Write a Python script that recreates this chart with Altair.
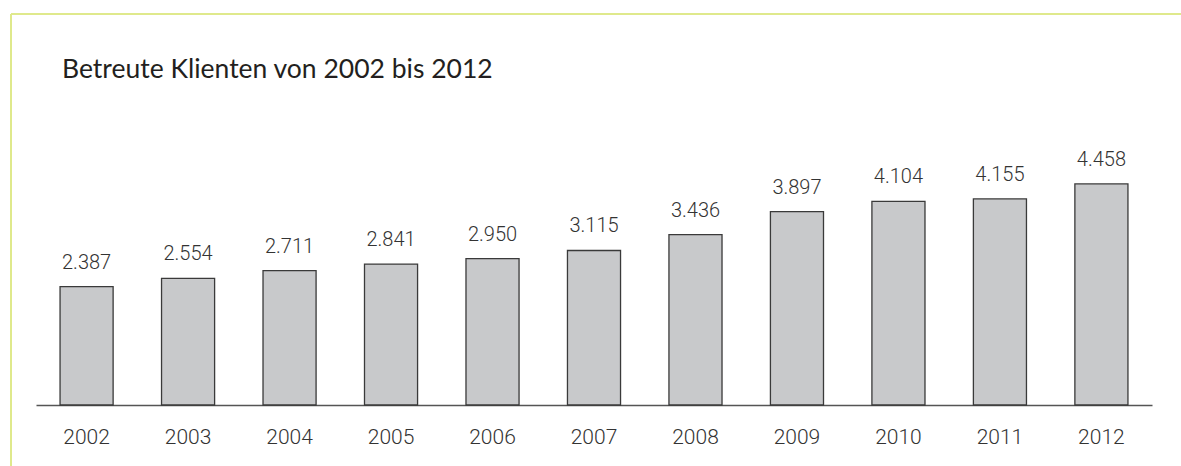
import altair as alt
import pandas as pd

years = ["2002", "2003", "2004", "2005", "2006", "2007", "2008", "2009", "2010", "2011", "2012"]
clients = [2387, 2554, 2711, 2841, 2950, 3115, 3436, 3897, 4104, 4155, 4458]
labels = [f"{v:,}".replace(",", ".") for v in clients]
title_text = "Betreute Klienten von 2002 bis 2012"

df = pd.DataFrame({"year": years, "clients": clients, "label": labels})

W, H = 1116, 248
PAD_L, PAD_T = 36, 157
TXT = "#333333"

x = alt.X(
    "year:N",
    sort=years,
    title=None,
    scale=alt.Scale(paddingInner=0.477, paddingOuter=0.237),
    axis=alt.Axis(
        labelAngle=0,
        labelFontSize=21,
        labelFont="Roboto",
        labelFontWeight=300,
        labelColor=TXT,
        labelPadding=21,
        ticks=False,
        domainColor="#555555",
        domainWidth=1.5,
        grid=False,
    ),
)
y = alt.Y("clients:Q", scale=alt.Scale(domain=[0, 5000]), axis=None)

base = alt.Chart(df)
bars = base.mark_bar(color="#c8c9cb", stroke="#3a3a3a", strokeWidth=1.3).encode(x=x, y=y)
text = base.mark_text(
    baseline="alphabetic", dy=-18, fontSize=20, font="Roboto", fontWeight=300, color=TXT
).encode(x=x, y=y, text="label:N")

one = pd.DataFrame({"t": [title_text]})
border_col = "#dfe98c"
top_line = alt.Chart(one).mark_rule(color=border_col, strokeWidth=2).encode(
    x=alt.value(11 - PAD_L), x2=alt.value(1181 - PAD_L), y=alt.value(14 - PAD_T)
)
left_line = alt.Chart(one).mark_rule(color=border_col, strokeWidth=2).encode(
    x=alt.value(11 - PAD_L), y=alt.value(14 - PAD_T), y2=alt.value(466 - PAD_T)
)
title = alt.Chart(one).mark_text(
    align="left", baseline="alphabetic", fontSize=26.5, font="Lato", color="#231f20"
).encode(x=alt.value(62 - PAD_L), y=alt.value(78 - PAD_T), text="t:N")

chart = (
    alt.layer(top_line, left_line, title, bars, text)
    .properties(
        width=W,
        height=H,
        background="white",
        autosize=alt.AutoSizeParams(type="none"),
        padding={"left": PAD_L, "top": PAD_T, "right": 1181 - PAD_L - W, "bottom": 466 - PAD_T - H},
    )
    .configure_view(strokeWidth=0, stroke=None)
)

chart.save("out.html", embed_options={"renderer": "svg", "actions": False})
